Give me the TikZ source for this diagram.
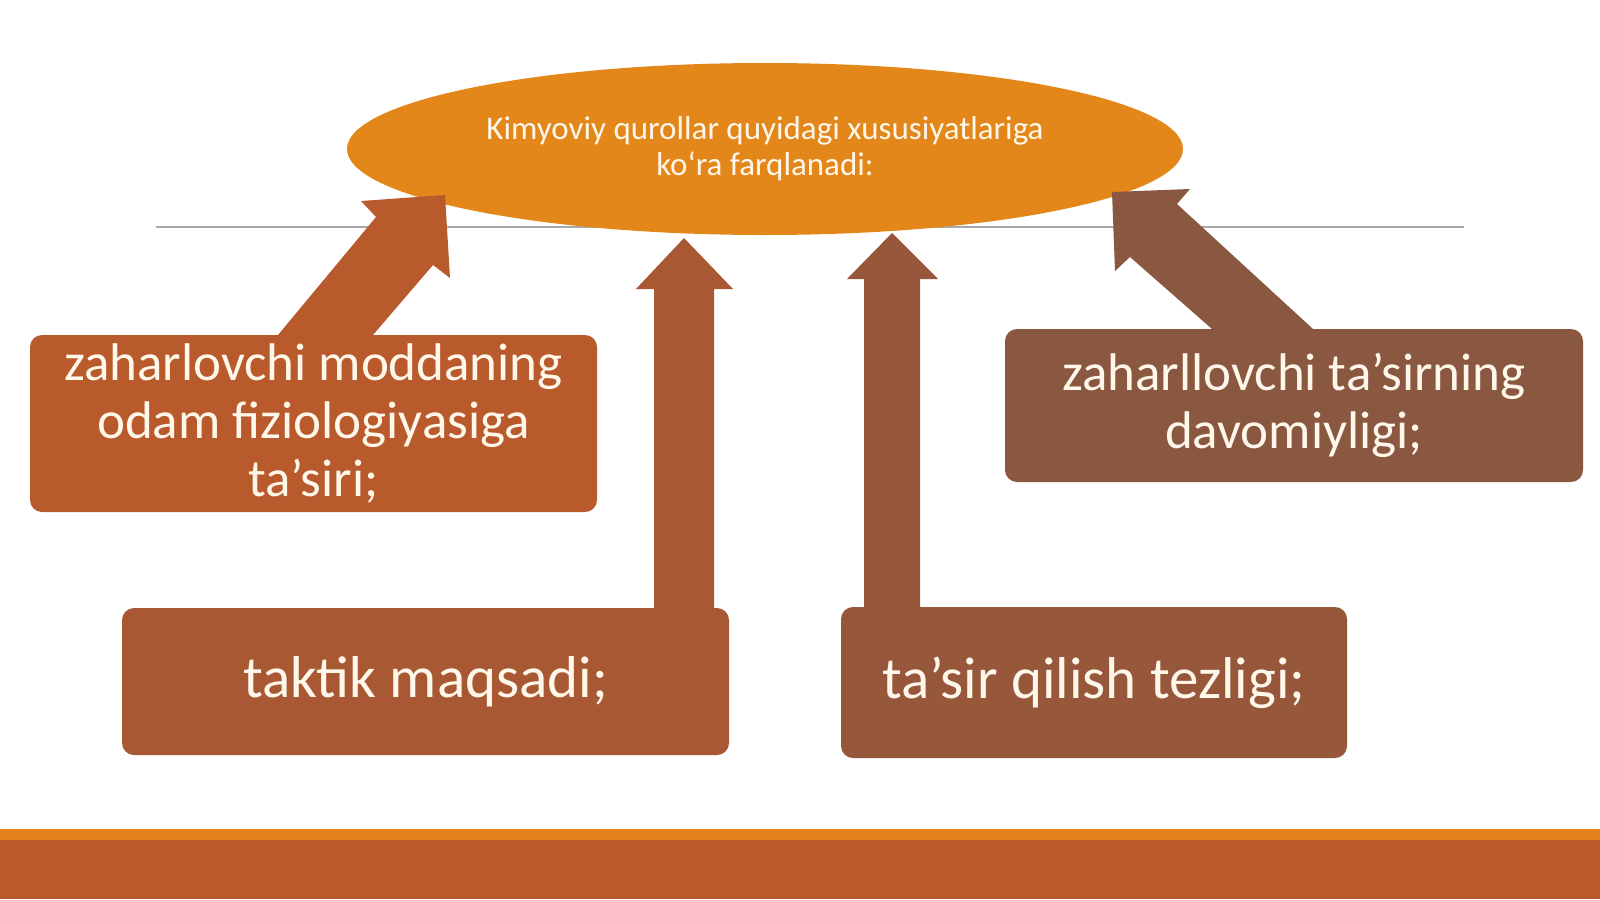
\documentclass[tikz,border=0pt]{standalone}
\usepackage{fontspec}
\setmainfont{Carlito}
\usetikzlibrary{shapes.geometric}
\definecolor{ellorange}{HTML}{E3871B}
\definecolor{cA}{HTML}{B95A2D}
\definecolor{cB}{HTML}{A85934}
\definecolor{cC}{HTML}{96573A}
\definecolor{cD}{HTML}{8A5740}
\definecolor{txtcream}{HTML}{FFF7EA}
\definecolor{stripeor}{HTML}{E6821E}
\definecolor{bardark}{HTML}{BA5A2C}
\definecolor{rulegray}{HTML}{A8A8A8}
\tikzset{
  boxstyle/.style={rectangle, rounded corners=12pt, inner sep=0pt, draw=none,
    text=txtcream, align=center},
  topfont/.style={font=\fontsize{53}{58}\selectfont},
  botfont/.style={font=\fontsize{59}{64}\selectfont},
  blockarrow/.style={draw=none}
}
\begin{document}
\begin{tikzpicture}[x=1pt,y=-1pt]
\useasboundingbox (0,0) rectangle (1600,899);
\fill[white] (0,0) rectangle (1600,899);
% thin rule
\draw[rulegray, line width=1.3pt] (156,227) -- (1464,227);
% ellipse
\node[ellipse, fill=ellorange, draw=none, minimum width=836pt, minimum height=172pt,
  inner sep=0pt, text=txtcream, align=center, font=\fontsize{33}{36}\selectfont]
  (top) at (765,149) {Kimyoviy qurollar quyidagi xususiyatlariga\\ko‘ra farqlanadi:};
% block arrows
\fill[cA, blockarrow] (269.7,345) -- (376,217) -- (361,201) -- (445,195) -- (450,278) -- (433,265) -- (364.4,345) -- cycle;
\fill[cB, blockarrow] (654,615) -- (654,289) -- (636,289) -- (684,238) -- (733,289) -- (714,289) -- (714,615) -- cycle;
\fill[cC, blockarrow] (864,615) -- (864,279) -- (847,279) -- (892,233) -- (938,279) -- (920,279) -- (920,615) -- cycle;
\fill[cD, blockarrow] (1223.4,339) -- (1130,257) -- (1115,271) -- (1112,192) -- (1190,189) -- (1177,204) -- (1323.9,339) -- cycle;
% boxes
\node[boxstyle, topfont, fill=cA, minimum width=567pt, minimum height=177pt] (b1) at (313.5,423.5)
  {zaharlovchi moddaning\\odam fiziologiyasiga\\ta’siri;};
\node[boxstyle, botfont, fill=cB, minimum width=607pt, minimum height=147pt] (b2) at (425.5,681.5)
  {taktik maqsadi;};
\node[boxstyle, botfont, fill=cC, minimum width=506pt, minimum height=151pt] (b3) at (1094,682.5)
  {ta’sir qilish tezligi;};
\node[boxstyle, topfont, fill=cD, minimum width=578pt, minimum height=153pt] (b4) at (1294,405.5)
  {zaharllovchi ta’sirning\\davomiyligi;};
% bottom bar
\fill[stripeor] (0,829) rectangle (1600,840);
\fill[bardark] (0,839.5) rectangle (1600,899);
\end{tikzpicture}
\end{document}
